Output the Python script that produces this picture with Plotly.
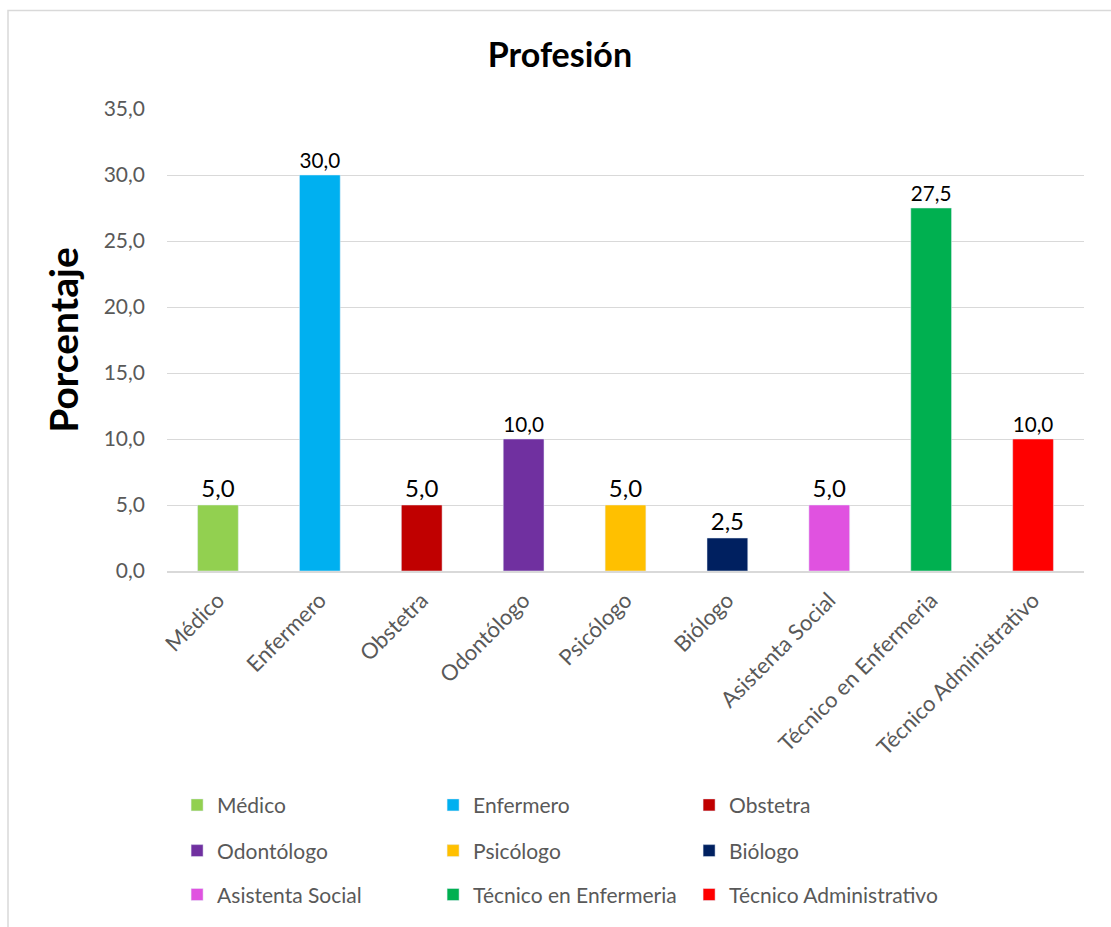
import plotly.graph_objects as go

categories = ["Médico", "Enfermero", "Obstetra", "Odontólogo", "Psicólogo",
              "Biólogo", "Asistenta Social", "Técnico en Enfermeria",
              "Técnico Administrativo"]
values = [5.0, 30.0, 5.0, 10.0, 5.0, 2.5, 5.0, 27.5, 10.0]
colors = ["#92D050", "#00B0F0", "#C00000", "#7030A0", "#FFC000",
          "#002060", "#E052E0", "#00B050", "#FF0000"]
y_ticks = [0, 5, 10, 15, 20, 25, 30, 35]

FONT = "Lato"
GRID = "#D9D9D9"
TICKC = "#595959"

fig = go.Figure()
legend_ids = ["legend", "legend2", "legend3"]
for i, (c, v, col) in enumerate(zip(categories, values, colors)):
    fig.add_trace(go.Bar(
        x=[c], y=[v], name=c, marker_color=col, width=0.4,
        text=[v], texttemplate="%{y:.1f}", textposition="outside",
        textfont=dict(family=FONT, size=24, color="#000000"),
        cliponaxis=False,
        legend=legend_ids[i // 3],
    ))

def leg(yv):
    return dict(orientation="h", x=0.011, xanchor="left", y=yv, yanchor="middle",
                font=dict(family=FONT, size=21, color=TICKC),
                entrywidth=211, entrywidthmode="pixels",
                bgcolor="rgba(0,0,0,0)", traceorder="normal")

fig.update_layout(
    width=1111, height=927,
    margin=dict(l=167, r=27, t=109, b=354),
    paper_bgcolor="white", plot_bgcolor="white",
    separators=",.",
    barmode="overlay",
    showlegend=True,
    title=dict(text="<b>Profesión</b>", x=0.504, xref="container", xanchor="center",
               y=1 - 55 / 927, yref="container", yanchor="middle",
               font=dict(family=FONT, size=34, color="#000000")),
    legend=leg(-0.507),
    legend2=leg(-0.606),
    legend3=leg(-0.701),
    xaxis=dict(
        categoryorder="array", categoryarray=categories,
        tickangle=-45, tickfont=dict(family=FONT, size=22, color=TICKC),
        showline=True, linecolor=GRID, linewidth=1.5, showgrid=False,
        ticks="", ticklabelstandoff=6,
    ),
    yaxis=dict(
        range=[0, 35], tickvals=y_ticks, tickformat=".1f",
        tickfont=dict(family=FONT, size=21, color=TICKC),
        showgrid=True, gridcolor=GRID, gridwidth=1, zeroline=False,
        showline=False, ticks="", ticklabelstandoff=21,
        title=dict(text="<b>Porcentaje</b>", standoff=13,
                   font=dict(family=FONT, size=39, color="#000000")),
    ),
    shapes=[dict(type="rect", xref="paper", yref="paper",
                 x0=-0.1734, x1=1.3, y0=-1.5, y1=1.2134,
                 line=dict(color=GRID, width=1.5), fillcolor="rgba(0,0,0,0)",
                 layer="below")],
)

fig.write_html("out.html")
